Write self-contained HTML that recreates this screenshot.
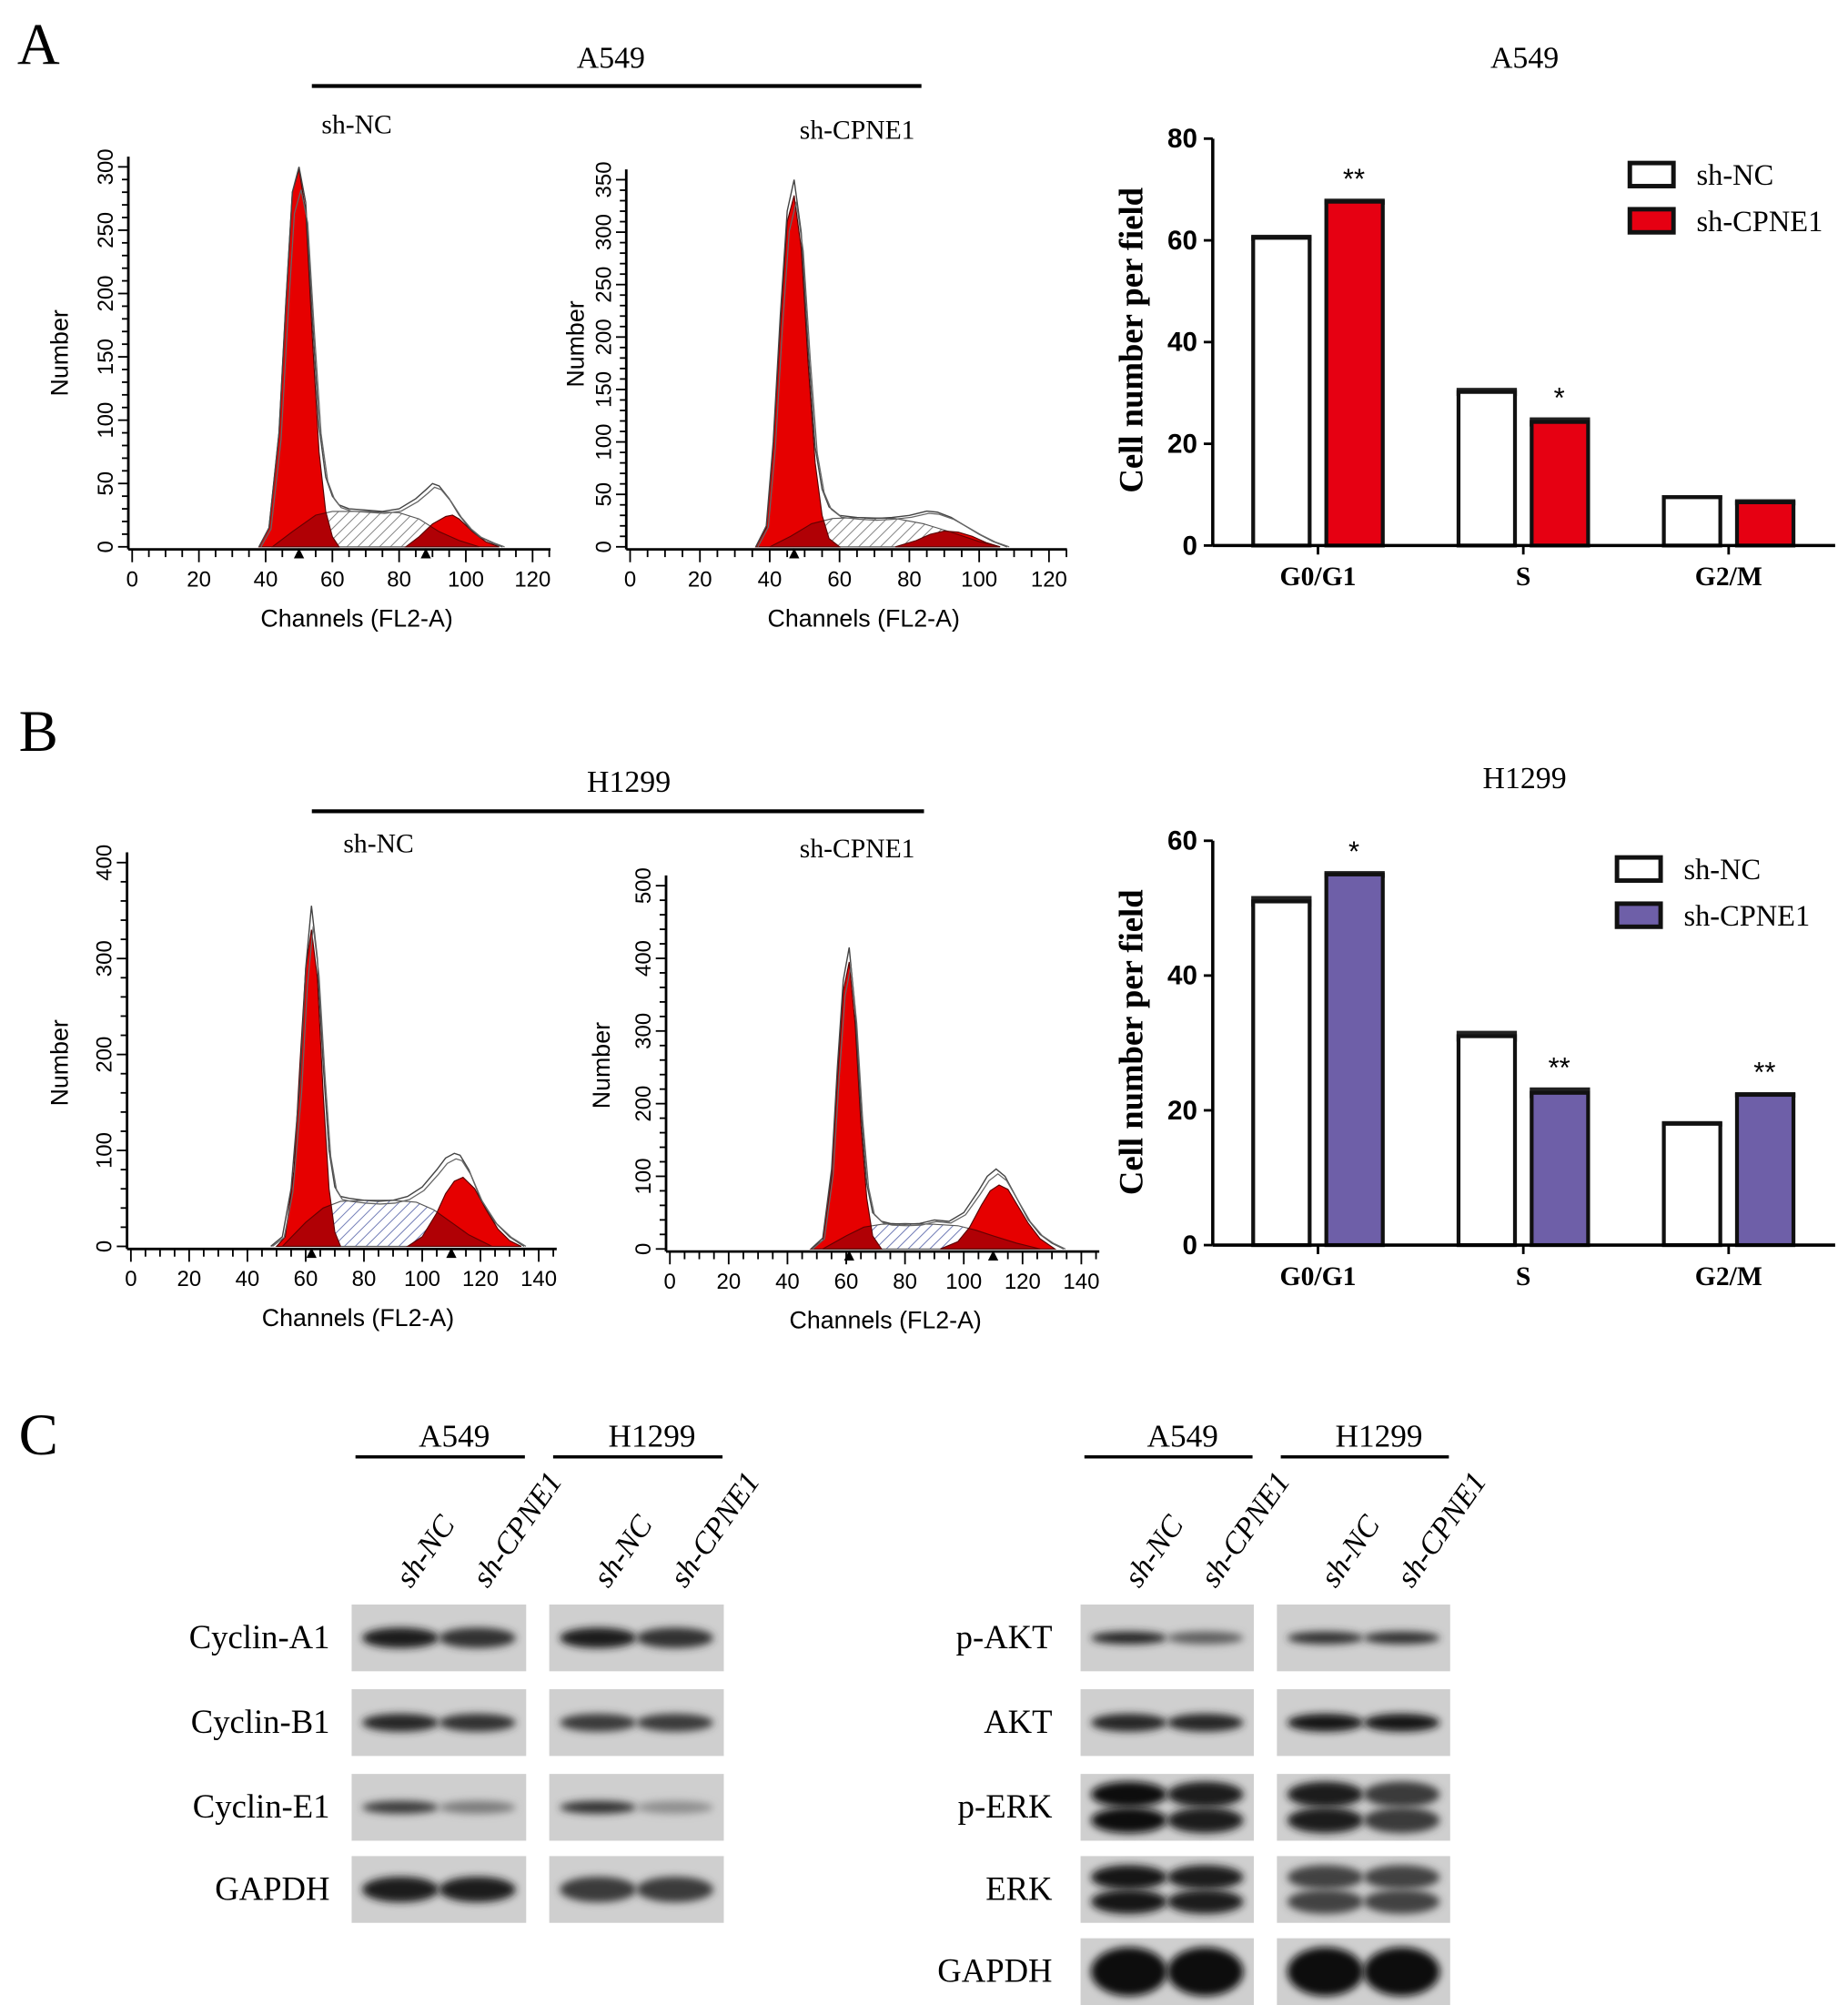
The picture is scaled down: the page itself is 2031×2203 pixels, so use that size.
<!DOCTYPE html>
<html><head><meta charset="utf-8"><style>
html,body{margin:0;padding:0;background:#fff;}
svg{display:block;}
.serif{font-family:"Liberation Serif",serif;}
.sans{font-family:"Liberation Sans",sans-serif;}
</style></head><body>
<svg id="fig" width="2031" height="2203" viewBox="0 0 1440 1562" preserveAspectRatio="none" xmlns="http://www.w3.org/2000/svg">
<defs id="defs">
<pattern id="hatchGray" patternUnits="userSpaceOnUse" width="6" height="6" patternTransform="rotate(45)"><rect width="6" height="6" fill="#fff"/><line x1="0" y1="0" x2="0" y2="6" stroke="#777" stroke-width="1.3"/></pattern>
<pattern id="hatchBlue" patternUnits="userSpaceOnUse" width="6" height="6" patternTransform="rotate(45)"><rect width="6" height="6" fill="#fff"/><line x1="0" y1="0" x2="0" y2="6" stroke="#6470b0" stroke-width="1.3"/></pattern>
<filter id="blur" x="-50%" y="-80%" width="200%" height="260%"><feGaussianBlur stdDeviation="3"/></filter>
</defs>
<g id="root"></g>
</svg>
<script>
// ---------- DATA ----------
const a1OutCh=[38,41,44,46,48,50,52,54,56,58,60,62,65,70,75,80,85,88,90,92,95,98,101,104,108,111];
const a1OutVal=[0,15,90,190,280,300,272,180,95,55,40,33,30,29,28,30,38,45,50,48,38,25,15,8,3,0];
const a1G1Ch=[38,41,44,46,48,50,52,54,56,58,60,62];
const a1G1Val=[0,15,90,190,280,298,265,165,75,28,8,0];
const a1SCh=[42,48,55,60,70,80,86,92,98,104];
const a1SVal=[0,12,25,28,28,27,22,12,5,0];
const a1G2Ch=[82,86,90,94,96,98,102,106,110];
const a1G2Val=[0,8,18,24,25,22,12,4,0];
const a2OutCh=[36,39,41,43,45,47,49,51,53,55,57,60,65,70,75,80,85,88,92,96,100,104,108];
const a2OutVal=[0,20,100,220,320,350,300,190,95,55,38,30,28,27,28,30,34,33,28,20,12,5,0];
const a2G1Ch=[36,39,41,43,45,47,49,51,53,55,57,60];
const a2G1Val=[0,18,95,210,310,335,285,175,80,30,8,0];
const a2SCh=[40,46,52,58,66,76,84,92,100,106];
const a2SVal=[0,10,22,27,28,27,22,14,5,0];
const a2G2Ch=[76,82,86,90,94,98,102,106];
const a2G2Val=[0,6,12,15,14,10,4,0];
const b1OutCh=[48,52,55,58,60,62,64,66,68,70,72,75,80,85,90,95,100,105,108,111,113,116,120,125,130,135];
const b1OutVal=[0,10,60,170,290,355,300,190,100,62,52,50,48,47,48,52,62,80,92,97,95,80,50,25,10,0];
const b1G1Ch=[50,53,56,58,60,62,64,66,68,70,72];
const b1G1Val=[0,10,80,190,290,330,280,160,60,15,0];
const b1SCh=[52,60,66,72,80,90,98,104,110,116,124];
const b1SVal=[0,25,40,47,48,48,46,38,25,12,0];
const b1G2Ch=[95,100,105,108,111,114,118,122,126,130,134];
const b1G2Val=[0,10,35,55,68,72,60,38,18,6,0];
const b2OutCh=[48,52,55,57,59,61,63,65,67,69,72,75,80,85,90,95,100,105,108,111,114,118,122,126,130,134];
const b2OutVal=[0,15,110,250,370,415,330,190,90,50,38,35,34,35,40,38,50,80,100,110,100,70,40,20,8,0];
const b2G1Ch=[48,52,55,57,59,61,63,65,67,69,72];
const b2G1Val=[0,12,100,235,355,395,310,170,70,18,0];
const b2SCh=[52,60,66,72,80,90,98,104,110,118,126];
const b2SVal=[0,18,30,34,35,34,32,26,18,8,0];
const b2G2Ch=[92,98,102,106,109,112,115,118,122,126,131];
const b2G2Val=[0,10,30,60,80,88,82,62,35,14,0];

const phases=["G0/G1","S","G2/M"];
const aNC=[60.5,30.2,9.5];
const aCP=[67.6,24.3,8.5];
const aNCerr=[0.6,0.8,0.4];
const aCPerr=[0.6,0.9,0.6];
const aSig=["**","*",""];
const aTicks=[0,20,40,60,80];
const bNC=[51,31,18];
const bCP=[55,22.6,22.3];
const bNCerr=[0.8,0.8,0.4];
const bCPerr=[0.5,0.8,0.4];
const bSig=["*","**","**"];
const bTicks=[0,20,40,60];

const leftProteins=["Cyclin-A1","Cyclin-B1","Cyclin-E1","GAPDH"];
const leftIntensity=[[0.9,0.8,0.9,0.8],[0.85,0.8,0.75,0.75],[0.75,0.4,0.8,0.3],[0.9,0.9,0.75,0.75]];
const leftBandH=[16,14,10,20];
const rightProteins=["p-AKT","AKT","p-ERK","ERK","GAPDH"];
const rightIntensity=[[0.85,0.55,0.8,0.8],[0.85,0.85,0.95,0.95],[1,0.9,0.9,0.75],[0.95,0.9,0.7,0.7],[1,1,1,1]];
const rightBandH=[10,14,36,34,38];
const rightDouble=[false,false,true,true,false];

// ---------- DRAW ----------
const NS="http://www.w3.org/2000/svg";
const root=document.getElementById('root');
const defs=document.getElementById('defs');
function el(tag,attrs,parent,txt){const e=document.createElementNS(NS,tag);for(const k in attrs)e.setAttribute(k,attrs[k]);if(txt!==undefined)e.textContent=txt;(parent||root).appendChild(e);return e;}

function txt(x,y,s,size,cls,name,extra){
  const t=el('text',Object.assign({x:x,y:y,'font-size':size,class:cls,'text-anchor':'middle'},extra||{}),root,s);
  
  
  return t;
}

txt(30,50,"A",46,"serif","panel-label-a");
txt(30,585,"B",46,"serif","panel-label-b");
txt(30,1133,"C",46,"serif","panel-label-c");
txt(476,53,"A549",24,"serif","hist-group-title-a549");
let ln=el('line',{x1:243,y1:67,x2:718,y2:67,stroke:'#000','stroke-width':3});

txt(490,617,"H1299",24,"serif","hist-group-title-h1299");
ln=el('line',{x1:243,y1:632,x2:720,y2:632,stroke:'#000','stroke-width':3});


let clipId=0;
function hist(cfg){
  const g=el('g',{});
  
  
  const X=c=>cfg.x0+c*cfg.xs, Y=v=>cfg.y0-v*cfg.ys;
  const path=(ch,val)=>{let d='M'+X(ch[0])+','+Y(0);ch.forEach((c,i)=>{d+=' L'+X(c).toFixed(1)+','+Y(val[i]).toFixed(1);});return d+' L'+X(ch[ch.length-1])+','+Y(0)+'Z';};
  const g1d=path(cfg.g1Ch,cfg.g1Val), g2d=path(cfg.g2Ch,cfg.g2Val), sd=path(cfg.sCh,cfg.sVal);
  let p=el('path',{d:sd,fill:cfg.hatch,stroke:'#555','stroke-width':0.8},g);
  
  p=el('path',{d:g2d,fill:'#e60000',stroke:'#500','stroke-width':0.8},g);
  
  p=el('path',{d:g1d,fill:'#e60000',stroke:'#500','stroke-width':0.8},g);
  
  const cid='peakclip'+(clipId++);
  const cp=el('clipPath',{id:cid},defs);
  el('path',{d:g1d},cp);el('path',{d:g2d},cp);
  p=el('path',{d:sd,fill:'rgba(110,0,10,0.45)',stroke:'#600','stroke-width':0.8,'clip-path':`url(#${cid})`},g);
  
  let d='';cfg.outCh.forEach((c,i)=>{d+=(i?' L':'M')+X(c).toFixed(1)+','+Y(cfg.outVal[i]).toFixed(1);});
  p=el('path',{d:d,fill:'none',stroke:'#444','stroke-width':1},g);
  
  d='';cfg.outCh.forEach((c,i)=>{d+=(i?' L':'M')+X(c+0.6).toFixed(1)+','+Y(cfg.outVal[i]*0.94).toFixed(1);});
  p=el('path',{d:d,fill:'none',stroke:'#666','stroke-width':0.9},g);
  
  const axX=cfg.axX;
  el('line',{x1:axX,y1:cfg.y0+2,x2:axX,y2:Y(cfg.ymax)-8,stroke:'#000','stroke-width':2},g);
  el('line',{x1:axX,y1:cfg.y0+2,x2:X(cfg.xmax)+14,y2:cfg.y0+2,stroke:'#000','stroke-width':2},g);
  for(let v=0;v<=cfg.ymax;v+=cfg.ymin){const maj=v%cfg.ystep===0;el('line',{x1:axX-(maj?8:5),y1:Y(v),x2:axX,y2:Y(v),stroke:'#000','stroke-width':1.3},g);}
  for(let v=0;v<=cfg.ymax;v+=cfg.ystep){
    const t=el('text',{x:axX-12,y:Y(v),'font-size':17,class:'sans','text-anchor':'middle',transform:`rotate(-90 ${axX-12} ${Y(v)})`},g,String(v));
    
  }
  for(let c=0;c<=cfg.xmax+5;c+=5){const maj=c%20===0;el('line',{x1:X(c),y1:cfg.y0+2,x2:X(c),y2:cfg.y0+(maj?12:8),stroke:'#000','stroke-width':1.3},g);}
  for(let c=0;c<=cfg.xmax;c+=20){
    const t=el('text',{x:X(c),y:cfg.y0+31,'font-size':17,class:'sans','text-anchor':'middle'},g,String(c));
    
  }
  cfg.markers.forEach(m=>{el('path',{d:`M${X(m)-4},${cfg.y0+9} L${X(m)+4},${cfg.y0+9} L${X(m)},${cfg.y0+1}Z`,fill:'#000'},g);});
  let t=el('text',{x:cfg.titleX,y:cfg.titleY,'font-size':21,class:'serif','text-anchor':'middle'},g,cfg.title);
  
  t=el('text',{x:cfg.labX,y:cfg.labY,'font-size':19,class:'sans','text-anchor':'middle',transform:`rotate(-90 ${cfg.labX} ${cfg.labY})`},g,"Number");
  
  t=el('text',{x:cfg.chX,y:cfg.y0+62,'font-size':19,class:'sans','text-anchor':'middle'},g,"Channels (FL2-A)");
  
}
hist({name:'hist-a549-sh-nc',x0:103,xs:2.6,y0:426,ys:296/300,ymax:300,ystep:50,ymin:10,xmax:120,axX:100,hatch:'url(#hatchGray)',
 outCh:a1OutCh,outVal:a1OutVal,g1Ch:a1G1Ch,g1Val:a1G1Val,sCh:a1SCh,sVal:a1SVal,g2Ch:a1G2Ch,g2Val:a1G2Val,markers:[50,88],
 title:'sh-NC',titleX:278,titleY:104,labX:53,labY:275,chX:278});
hist({name:'hist-a549-sh-cpne1',x0:491,xs:2.72,y0:426,ys:286/350,ymax:350,ystep:50,ymin:10,xmax:120,axX:488,hatch:'url(#hatchGray)',
 outCh:a2OutCh,outVal:a2OutVal,g1Ch:a2G1Ch,g1Val:a2G1Val,sCh:a2SCh,sVal:a2SVal,g2Ch:a2G2Ch,g2Val:a2G2Val,markers:[47],
 title:'sh-CPNE1',titleX:668,titleY:108,labX:455,labY:268,chX:673});
hist({name:'hist-h1299-sh-nc',x0:102,xs:2.27,y0:971,ys:299/400,ymax:400,ystep:100,ymin:20,xmax:140,axX:99,hatch:'url(#hatchBlue)',
 outCh:b1OutCh,outVal:b1OutVal,g1Ch:b1G1Ch,g1Val:b1G1Val,sCh:b1SCh,sVal:b1SVal,g2Ch:b1G2Ch,g2Val:b1G2Val,markers:[62,110],
 title:'sh-NC',titleX:295,titleY:664,labX:53,labY:828,chX:279});
hist({name:'hist-h1299-sh-cpne1',x0:522,xs:2.29,y0:973,ys:283/500,ymax:500,ystep:100,ymin:20,xmax:140,axX:519,hatch:'url(#hatchBlue)',
 outCh:b2OutCh,outVal:b2OutVal,g1Ch:b2G1Ch,g1Val:b2G1Val,sCh:b2SCh,sVal:b2SVal,g2Ch:b2G2Ch,g2Val:b2G2Val,markers:[61,110],
 title:'sh-CPNE1',titleX:668,titleY:668,labX:475,labY:830,chX:690});

function bars(cfg){
  const g=el('g',{});
  
  
  const Y=v=>cfg.y0-v*cfg.ys;
  let t=el('text',{x:1188,y:cfg.titleY,'font-size':24,class:'serif','text-anchor':'middle'},g,cfg.title);
  
  const gx=[1027,1187,1347];
  phases.forEach((p,i)=>{
    [[cfg.nc,cfg.ncErr,'#fff',-1],[cfg.cp,cfg.cpErr,cfg.color,1]].forEach(([vals,err,col,side],k)=>{
      const x=side<0?gx[i]-52:gx[i]+5;
      const v=vals[i];
      el('rect',{x:x,y:Y(v+err[i]),width:47,height:err[i]*cfg.ys*2,fill:'#222'},g);
      const r=el('rect',{x:x+1.5,y:Y(v),width:44,height:Y(0)-Y(v),fill:col,stroke:'#111','stroke-width':3},g);
      
      
    });
    if(cfg.sig[i]){const t2=el('text',{x:gx[i]+28,y:Y(cfg.cp[i]+cfg.cpErr[i])-8,'font-size':22,class:'sans','text-anchor':'middle'},g,cfg.sig[i]);
      }
    el('line',{x1:gx[i],y1:cfg.y0,x2:gx[i],y2:cfg.y0+7,stroke:'#000','stroke-width':2},g);
    const tl=el('text',{x:gx[i],y:cfg.y0+31,'font-size':21,class:'serif','font-weight':'bold','text-anchor':'middle'},g,p);
    
  });
  el('line',{x1:945,y1:cfg.y0,x2:945,y2:Y(cfg.ticks[cfg.ticks.length-1]),stroke:'#000','stroke-width':2.5},g);
  el('line',{x1:945,y1:cfg.y0,x2:1430,y2:cfg.y0,stroke:'#000','stroke-width':2.5},g);
  cfg.ticks.forEach(v=>{el('line',{x1:938,y1:Y(v),x2:945,y2:Y(v),stroke:'#000','stroke-width':2},g);
    const tt=el('text',{x:933,y:Y(v)+7,'font-size':21,class:'sans','font-weight':'bold','text-anchor':'end'},g,String(v));
    });
  t=el('text',{x:890,y:cfg.labY,'font-size':26,class:'serif','font-weight':'bold','text-anchor':'middle',transform:`rotate(-90 890 ${cfg.labY})`},g,"Cell number per field");
  
  [['sh-NC','#fff',0],['sh-CPNE1',cfg.color,1]].forEach(([lab,col,k])=>{
    const ly=cfg.legY+k*36;
    const r=el('rect',{x:cfg.legX,y:ly,width:34,height:18,fill:col,stroke:'#111','stroke-width':3.5},g);
    
    const tt=el('text',{x:cfg.legX+52,y:ly+17,'font-size':23,class:'serif'},g,lab);
    
  });
}
bars({name:'bar-chart-a549',title:'A549',titleY:53,y0:425,ys:317/80,nc:aNC,cp:aCP,ncErr:aNCerr,cpErr:aCPerr,sig:aSig,ticks:aTicks,color:'#e60012',labY:265,legX:1270,legY:127});
bars({name:'bar-chart-h1299',title:'H1299',titleY:614,y0:970,ys:315/60,nc:bNC,cp:bCP,ncErr:bNCerr,cpErr:bCPerr,sig:bSig,ticks:bTicks,color:'#6e5fa8',labY:812,legX:1260,legY:668});

function blot(cfg){
  const g=el('g',{});
  
  
  const lanes=['sh-NC','sh-CPNE1','sh-NC','sh-CPNE1'];
  [['A549',cfg.boxX[0]],['H1299',cfg.boxX[1]]].forEach(([n,x])=>{
    const t=el('text',{x:x+cfg.boxW/2+12,y:1127,'font-size':25,class:'serif','text-anchor':'middle'},g,n);
    
    el('line',{x1:x+3,y1:1135,x2:x+cfg.boxW-1,y2:1135,stroke:'#000','stroke-width':2.5},g);
  });
  lanes.forEach((l,i)=>{
    const bx=cfg.boxX[i>>1], lx=bx+(i%2?cfg.boxW*0.72:cfg.boxW*0.28)+8, ly=1238;
    const t=el('text',{x:lx,y:ly,'font-size':24,class:'serif','font-style':'italic',transform:`rotate(-55 ${lx} ${ly})`},g,l);
    
  });
  cfg.proteins.forEach((p,r)=>{
    const y=cfg.rowY[r], h=cfg.rowH;
    const t=el('text',{x:cfg.labX,y:y+h/2+8,'font-size':26,class:'serif','text-anchor':'end'},g,p);
    
    [0,1].forEach(b=>{
      const bx=cfg.boxX[b];
      const box=el('rect',{x:bx,y:y,width:cfg.boxW,height:h,fill:'#cfcfcf'},g);
      
      [0,1].forEach(k=>{
        const inten=cfg.intensity[r][b*2+k];
        const cx=bx+cfg.boxW*(k?0.72:0.28), bh=cfg.bandH[r];
        const shade=Math.round(200-190*inten);
        const col=`rgb(${shade},${shade},${shade})`;
        if(cfg.double&&cfg.double[r]){
          [-0.28,0.28].forEach(o=>{const e=el('ellipse',{cx:cx,cy:y+h/2+o*bh,rx:cfg.boxW*0.22,ry:bh*0.28,fill:col,filter:'url(#blur)'},g);
            });
        } else {
          const e=el('ellipse',{cx:cx,cy:y+h/2,rx:cfg.boxW*0.22,ry:bh/2,fill:col,filter:'url(#blur)'},g);
          
        }
      });
    });
  });
}
blot({name:'western-blot-cyclins',boxX:[274,428],boxW:136,proteins:leftProteins,intensity:leftIntensity,bandH:leftBandH,rowY:[1250,1316,1382,1446],rowH:52,labX:257});
blot({name:'western-blot-akt-erk',boxX:[842,995],boxW:135,proteins:rightProteins,intensity:rightIntensity,bandH:rightBandH,double:rightDouble,rowY:[1250,1316,1382,1446,1510],rowH:52,labX:820});
</script>
</body></html>
